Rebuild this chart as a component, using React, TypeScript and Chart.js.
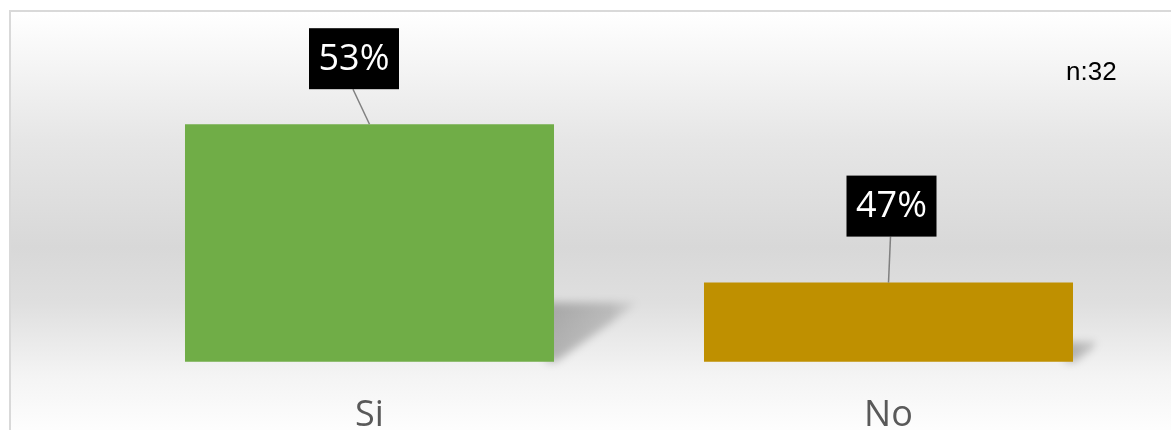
import React, { useEffect, useRef } from "react";
import { Chart, registerables } from "chart.js";

Chart.register(...registerables);

const categories = ["Si", "No"];
const values = [53, 47];
const valueLabels = ["53%", "47%"];
const barColors = ["#70AD47", "#BF9000"];
const sampleNote = "n:32";
const yMin = 44;
const yMax = 56;

// label box placement relative to bar top-centre (layout only)
const labelOffsetX = [-15.5, 3];
const labelOffsetY = [-65.5, -76.5];

const BAR_PCT = 0.711;
const W = 1171;
const H = 480;

const backgroundPlugin = {
  id: "bgFrame",
  beforeDraw(chart: any) {
    const ctx = chart.ctx;
    ctx.save();
    ctx.fillStyle = "#ffffff";
    ctx.fillRect(0, 0, W, H);
    const g = ctx.createLinearGradient(0, 12, 0, 440);
    g.addColorStop(0, "#ffffff");
    g.addColorStop(0.3, "#e6e6e6");
    g.addColorStop(0.55, "#d8d8d8");
    g.addColorStop(0.68, "#dfdfdf");
    g.addColorStop(0.85, "#f4f4f4");
    g.addColorStop(1, "#ffffff");
    ctx.fillStyle = g;
    ctx.fillRect(10, 12, W - 10, H - 12);
    ctx.strokeStyle = "#d9d9d9";
    ctx.lineWidth = 2;
    ctx.beginPath();
    ctx.moveTo(10, H);
    ctx.lineTo(10, 11);
    ctx.lineTo(W, 11);
    ctx.stroke();
    ctx.restore();
  },
};

const shadowPlugin = {
  id: "barShadow",
  beforeDatasetsDraw(chart: any) {
    const ctx = chart.ctx;
    const xs = chart.scales.x;
    const ys = chart.scales.y;
    const catW = xs.width / categories.length;
    const base = ys.getPixelForValue(yMin);
    const off = 4000;
    ctx.save();
    values.forEach((v, i) => {
      const cx = xs.getPixelForValue(i);
      const right = cx + (catW * BAR_PCT) / 2;
      const top0 = ys.getPixelForValue(v);
      const h = base - top0;
      const top = base - 0.25 * h;
      const far = right + 0.36 * h;
      const grad = ctx.createLinearGradient(right - off, 0, far - off, 0);
      grad.addColorStop(0, "rgba(0,0,0,1)");
      grad.addColorStop(0.65, "rgba(0,0,0,0.7)");
      grad.addColorStop(1, "rgba(0,0,0,0.15)");
      ctx.shadowColor = "rgba(0,0,0,0.25)";
      ctx.shadowBlur = 8;
      ctx.shadowOffsetX = off;
      ctx.shadowOffsetY = 0;
      ctx.fillStyle = grad;
      ctx.beginPath();
      ctx.moveTo(right - 8 - off, top);
      ctx.lineTo(far - off, top);
      ctx.lineTo(right + 2 - off, base);
      ctx.lineTo(right - 8 - off, base);
      ctx.closePath();
      ctx.fill();
    });
    ctx.restore();
  },
};

const labelPlugin = {
  id: "boxLabels",
  afterDatasetsDraw(chart: any) {
    const ctx = chart.ctx;
    const meta = chart.getDatasetMeta(0);
    ctx.save();
    meta.data.forEach((bar: any, i: number) => {
      const x = bar.x;
      const y = bar.y;
      const cx = x + labelOffsetX[i];
      const cy = y + labelOffsetY[i];
      const bw = 90;
      const bh = 61;
      ctx.strokeStyle = "#808080";
      ctx.lineWidth = 1.5;
      ctx.beginPath();
      ctx.moveTo(cx - 1, cy + bh / 2);
      ctx.lineTo(x, y);
      ctx.stroke();
      ctx.fillStyle = "#000000";
      ctx.fillRect(cx - bw / 2, cy - bh / 2, bw, bh);
      ctx.fillStyle = "#ffffff";
      ctx.font = '36px "Open Sans"';
      ctx.textAlign = "center";
      ctx.textBaseline = "middle";
      ctx.fillText(valueLabels[i], cx, cy + 1);
    });
    ctx.fillStyle = "#000000";
    ctx.font = '26px "Liberation Sans"';
    ctx.textAlign = "left";
    ctx.textBaseline = "alphabetic";
    ctx.fillText(sampleNote, 1066, 80);
    ctx.restore();
  },
};

export default function App() {
  const ref = useRef<HTMLCanvasElement | null>(null);

  useEffect(() => {
    document.body.style.margin = "0";
    const canvas = ref.current;
    if (!canvas) return;
    const chart = new Chart(canvas, {
      type: "bar",
      data: {
        labels: categories,
        datasets: [
          {
            data: values,
            backgroundColor: barColors,
            borderWidth: 0,
            categoryPercentage: 1,
            barPercentage: BAR_PCT,
          },
        ],
      },
      options: {
        responsive: false,
        animation: false,
        devicePixelRatio: 1,
        layout: { padding: { left: 110, right: 23, top: 45, bottom: 11 } },
        plugins: {
          legend: { display: false },
          tooltip: { enabled: false },
          title: { display: false },
        },
        scales: {
          x: {
            grid: { display: false, drawTicks: false },
            border: { display: false },
            ticks: {
              color: "#595959",
              font: { family: '"Open Sans"', size: 36 },
              padding: 32,
            },
          },
          y: {
            display: false,
            min: yMin,
            max: yMax,
          },
        },
      },
      plugins: [backgroundPlugin, shadowPlugin, labelPlugin],
    });
    return () => chart.destroy();
  }, []);

  return (
    <div style={{ width: W, height: 430, overflow: "hidden", position: "relative" }}>
      <canvas ref={ref} width={W} height={H} style={{ display: "block", width: W, height: H }} />
    </div>
  );
}
